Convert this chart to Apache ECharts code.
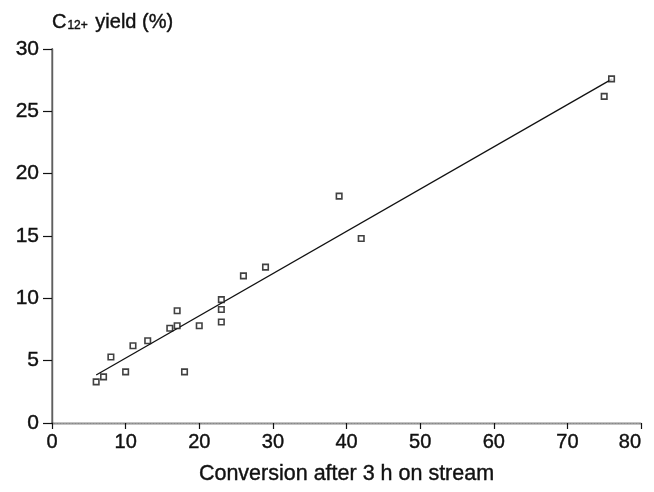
<!DOCTYPE html>
<html>
<head>
<meta charset="utf-8">
<script src="https://cdn.jsdelivr.net/npm/echarts@6/dist/echarts.min.js"></script>
<style>
  html, body { margin: 0; padding: 0; background: #fff; }
  #chart { width: 654px; height: 492px; }
</style>
</head>
<body>
<div id="chart"></div>
<script>
// Conversion after 3 h on stream (x) vs. C12+ yield in % (y)
const conversion = [6, 7, 8, 10, 11, 13, 16, 17, 17, 18, 20, 23, 23, 23, 26, 29, 39, 42, 75, 76];
const yieldC12 = [3.3, 3.7, 5.3, 4.1, 6.2, 6.6, 7.6, 9.0, 7.8, 4.1, 7.8, 9.9, 9.1, 8.1, 11.8, 12.5, 18.2, 14.8, 26.2, 27.6];

// Linear fit drawn across the range of the data
const fitX = [6, 76.1];
const fitY = [3.85, 27.6];

const xTicks = { min: 0, max: 80, step: 10 };
const yTicks = { min: 0, max: 30, step: 5 };

const points = conversion.map((x, i) => [x, yieldC12[i]]);
const fitLine = fitX.map((x, i) => [x, fitY[i]]);

const font = '"Liberation Sans", Arial, Helvetica, sans-serif';
const ink = '#111';
// slightly heavier strokes on the text
const heavy = { textBorderColor: ink, textBorderWidth: 0.4 };

const chart = echarts.init(document.getElementById('chart'), null, { renderer: 'canvas' });

chart.setOption({
  backgroundColor: '#ffffff',
  animation: false,
  title: {
    left: 47,
    top: 3,
    text: '{a|C}{s|12+}{a| yield (%)}',
    textStyle: {
      fontWeight: 'normal',
      rich: {
        a: Object.assign({ fontFamily: font, fontSize: 20, fontWeight: 'normal', color: ink, verticalAlign: 'bottom', lineHeight: 24 }, heavy),
        s: Object.assign({ fontFamily: font, fontSize: 12, fontWeight: 'normal', color: ink, verticalAlign: 'bottom', lineHeight: 18, padding: [0, 2, 0, 1] }, heavy)
      }
    }
  },
  grid: { left: 52, right: 13, top: 49, bottom: 69, containLabel: false },
  xAxis: [
    {
      type: 'value',
      min: xTicks.min, max: xTicks.max, interval: xTicks.step,
      position: 'bottom',
      name: 'Conversion after 3 h on stream',
      nameLocation: 'middle',
      nameGap: 40,
      nameTextStyle: Object.assign({ fontFamily: font, fontSize: 21.5, color: ink }, heavy),
      axisLine: { lineStyle: { color: ink, width: 1.3 } },
      axisTick: { show: true, inside: false, length: 6, lineStyle: { color: ink, width: 1.2 } },
      axisLabel: Object.assign({ margin: 9, fontFamily: font, fontSize: 20, color: ink, alignMaxLabel: 'right' }, heavy),
      splitLine: { show: false }
    },
    {
      type: 'value',
      min: xTicks.min, max: xTicks.max,
      position: 'top',
      axisLine: { show: true, lineStyle: { color: '#9a9a9a', width: 1.2, type: [2, 1] } },
      axisTick: { show: false },
      axisLabel: { show: false },
      splitLine: { show: false }
    }
  ],
  yAxis: [
    {
      type: 'value',
      min: yTicks.min, max: yTicks.max, interval: yTicks.step,
      position: 'left',
      axisLine: { show: true, lineStyle: { color: ink, width: 1.3 } },
      axisTick: { show: true, inside: false, length: 9, lineStyle: { color: ink, width: 1.2 } },
      axisLabel: Object.assign({ margin: 13, fontFamily: font, fontSize: 21, color: ink }, heavy),
      splitLine: { show: false }
    },
    {
      type: 'value',
      min: yTicks.min, max: yTicks.max,
      position: 'right',
      axisLine: { show: true, lineStyle: { color: '#7a7a7a', width: 1.5 } },
      axisTick: { show: false },
      axisLabel: { show: false },
      splitLine: { show: false }
    }
  ],
  series: [
    {
      type: 'line',
      data: fitLine,
      xAxisIndex: 0, yAxisIndex: 0,
      showSymbol: false,
      symbol: 'none',
      lineStyle: { color: ink, width: 1.3 },
      z: 2
    },
    {
      type: 'scatter',
      data: points,
      xAxisIndex: 0, yAxisIndex: 0,
      symbol: 'rect',
      symbolSize: 5.5,
      itemStyle: { color: '#ffffff', borderColor: ink, borderWidth: 1.6 },
      z: 3
    }
  ]
});
</script>
</body>
</html>
